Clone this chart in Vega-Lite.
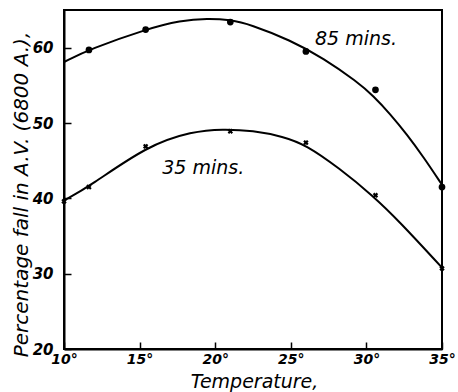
{
  "$schema": "https://vega.github.io/schema/vega-lite/v6.json",
  "width": 378,
  "height": 339,
  "autosize": {"type": "none"},
  "padding": {"left": 64, "top": 10, "right": 16, "bottom": 43},
  "background": "white",
  "config": {
    "view": {"stroke": "black", "strokeWidth": 2},
    "font": "DejaVu Sans"
  },
  "datasets": {
    "curves": [
      {"series": "85 mins", "t": 10, "v": 58.1},
      {"series": "85 mins", "t": 11.7, "v": 59.8},
      {"series": "85 mins", "t": 15.5, "v": 62.5},
      {"series": "85 mins", "t": 17.7, "v": 63.6},
      {"series": "85 mins", "t": 19.5, "v": 63.9},
      {"series": "85 mins", "t": 21.0, "v": 63.7},
      {"series": "85 mins", "t": 22.3, "v": 63.1},
      {"series": "85 mins", "t": 24.96, "v": 61.0},
      {"series": "85 mins", "t": 27.16, "v": 58.6},
      {"series": "85 mins", "t": 29.37, "v": 55.5},
      {"series": "85 mins", "t": 30.46, "v": 53.6},
      {"series": "85 mins", "t": 31.57, "v": 51.2},
      {"series": "85 mins", "t": 32.67, "v": 48.5},
      {"series": "85 mins", "t": 33.77, "v": 45.5},
      {"series": "85 mins", "t": 35, "v": 41.8},
      {"series": "35 mins", "t": 10, "v": 39.7},
      {"series": "35 mins", "t": 11.7, "v": 41.6},
      {"series": "35 mins", "t": 15.5, "v": 47.0},
      {"series": "35 mins", "t": 18.5, "v": 48.9},
      {"series": "35 mins", "t": 20.5, "v": 49.2},
      {"series": "35 mins", "t": 22.5, "v": 49.0},
      {"series": "35 mins", "t": 24.5, "v": 48.2},
      {"series": "35 mins", "t": 26.0, "v": 47.1},
      {"series": "35 mins", "t": 28.2, "v": 44.0},
      {"series": "35 mins", "t": 30.4, "v": 40.4},
      {"series": "35 mins", "t": 32.2, "v": 36.9},
      {"series": "35 mins", "t": 35, "v": 30.8}
    ],
    "points": [
      {"series": "85 mins", "t": 11.65, "v": 59.7},
      {"series": "85 mins", "t": 15.4, "v": 62.4},
      {"series": "85 mins", "t": 21.0, "v": 63.4},
      {"series": "85 mins", "t": 26.0, "v": 59.5},
      {"series": "85 mins", "t": 30.6, "v": 54.4},
      {"series": "85 mins", "t": 35, "v": 41.5},
      {"series": "35 mins", "t": 10, "v": 39.6},
      {"series": "35 mins", "t": 11.65, "v": 41.5},
      {"series": "35 mins", "t": 15.4, "v": 46.9},
      {"series": "35 mins", "t": 21.0, "v": 48.9},
      {"series": "35 mins", "t": 26.0, "v": 47.4},
      {"series": "35 mins", "t": 30.6, "v": 40.4},
      {"series": "35 mins", "t": 35, "v": 30.7}
    ],
    "labels": [
      {"label": "85 mins.", "t": 26.6, "v": 61.2},
      {"label": "35 mins.", "t": 16.5, "v": 44.0}
    ]
  },
  "encoding": {
    "x": {
      "field": "t",
      "type": "quantitative",
      "scale": {"domain": [10, 35], "nice": false, "zero": false},
      "axis": {
        "values": [10, 15, 20, 25, 30, 35],
        "labelExpr": "datum.value + '°'",
        "grid": false,
        "domainColor": "black",
        "domainWidth": 2,
        "tickColor": "black",
        "tickWidth": 1.5,
        "tickSize": -7,
        "labelPadding": 10,
        "labelFont": "DejaVu Sans",
        "labelFontSize": 14,
        "labelFontStyle": "italic",
        "labelFontWeight": "bold",
        "labelColor": "black",
        "labelFlush": false,
        "labelOverlap": false,
        "title": "Temperature,",
        "titleFont": "DejaVu Sans",
        "titleFontSize": 19,
        "titleFontStyle": "italic",
        "titleFontWeight": "normal",
        "titleColor": "black",
        "titleX": 190,
        "titleY": 38,
        "titleBaseline": "alphabetic"
      }
    },
    "y": {
      "field": "v",
      "type": "quantitative",
      "scale": {"domain": [20, 65], "nice": false, "zero": false},
      "axis": {
        "values": [20, 30, 40, 50, 60],
        "grid": false,
        "domainColor": "black",
        "domainWidth": 2,
        "tickColor": "black",
        "tickWidth": 1.5,
        "tickSize": -7,
        "labelPadding": 18,
        "labelFont": "DejaVu Sans",
        "labelFontSize": 15,
        "labelFontStyle": "italic",
        "labelFontWeight": "bold",
        "labelColor": "black",
        "labelFlush": false,
        "labelOverlap": false,
        "title": "Percentage fall in A.V. (6800 A.),",
        "titleFont": "DejaVu Sans",
        "titleFontSize": 20,
        "titleFontStyle": "italic",
        "titleFontWeight": "normal",
        "titleColor": "black",
        "titleX": -37,
        "titleY": 184,
        "titleBaseline": "alphabetic"
      }
    }
  },
  "layer": [
    {
      "data": {"name": "curves"},
      "mark": {"type": "line", "interpolate": "basis", "color": "black", "strokeWidth": 2},
      "encoding": {"detail": {"field": "series"}}
    },
    {
      "data": {"name": "points"},
      "transform": [{"filter": "datum.series == '85 mins'"}],
      "mark": {"type": "point", "shape": "circle", "filled": true, "color": "black", "size": 45, "opacity": 1}
    },
    {
      "data": {"name": "points"},
      "transform": [{"filter": "datum.series == '35 mins'"}],
      "mark": {"type": "point", "shape": "cross", "angle": 45, "filled": true, "color": "black", "size": 30, "opacity": 1}
    },
    {
      "data": {"name": "labels"},
      "mark": {"type": "text", "align": "left", "baseline": "middle", "font": "DejaVu Sans", "fontSize": 19, "fontStyle": "italic", "color": "black"},
      "encoding": {"text": {"field": "label"}}
    }
  ]
}
